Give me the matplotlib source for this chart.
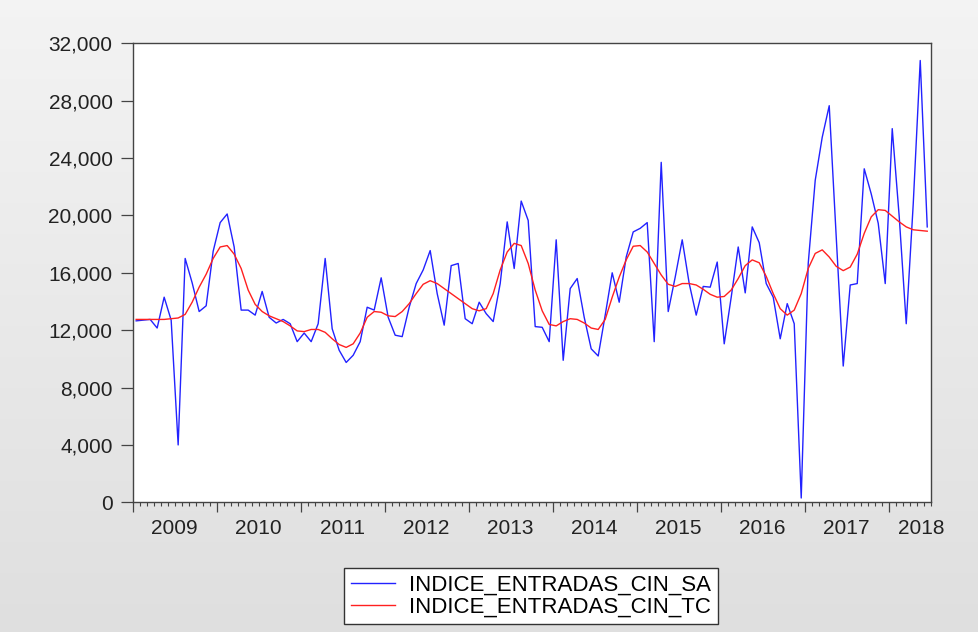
import numpy as np
import matplotlib.pyplot as plt

plt.rcParams['font.family'] = ['Liberation Sans', 'DejaVu Sans']

# Serie mensual 2009M01 - 2018M06
anio_inicio = 2009
etiquetas_anios = ['2009', '2010', '2011', '2012', '2013', '2014', '2015', '2016', '2017', '2018']

indice_sa = [
    12650, 12700, 12750, 12150, 14300, 12700, 4000, 17000, 15300, 13300,
    13700, 17500, 19500, 20100, 17800, 13400, 13400, 13050, 14700, 12900,
    12500, 12750, 12450, 11200, 11800, 11200, 12450, 17000, 12100, 10600,
    9750, 10250, 11200, 13600, 13400, 15650, 12900, 11650, 11550, 13600,
    15250, 16200, 17550, 14550, 12350, 16500, 16650, 12800, 12450, 13950,
    13150, 12600, 15250, 19550, 16300, 21000, 19650, 12250, 12200, 11200,
    18300, 9900, 14900, 15600, 12900, 10700, 10200, 13050, 16000, 13950,
    17100, 18850, 19100, 19500, 11200, 23700, 13300, 15700, 18300, 15250,
    13050, 15050, 15000, 16750, 11050, 14300, 17800, 14600, 19200, 18100,
    15250, 14300, 11400, 13850, 12450, 300, 16650, 22450, 25450, 27650,
    18500, 9500, 15150, 15250, 23250, 21500, 19450, 15250, 26050, 19900,
    12450, 20800, 30800, 19200,
]

indice_tc = [
    12750, 12750, 12750, 12750, 12750, 12800, 12850, 13100, 13950, 15000,
    15900, 17000, 17800, 17900, 17300, 16300, 14800, 13800, 13300, 13000,
    12800, 12600, 12300, 11950, 11900, 12050, 12050, 11850, 11400, 11000,
    10800, 11050, 11800, 12900, 13300, 13250, 13000, 12950, 13300, 13850,
    14550, 15200, 15450, 15250, 14900, 14550, 14200, 13850, 13500, 13350,
    13500, 14550, 16200, 17450, 18050, 17900, 16650, 14800, 13350, 12400,
    12300, 12600, 12800, 12750, 12500, 12150, 12050, 12750, 14300, 15700,
    16900, 17850, 17900, 17450, 16650, 15850, 15200, 15050, 15250, 15250,
    15150, 14850, 14500, 14300, 14350, 14800, 15600, 16500, 16900, 16700,
    15750, 14550, 13500, 13050, 13400, 14550, 16300, 17350, 17600, 17100,
    16450, 16150, 16400, 17300, 18750, 19900, 20400, 20350, 19950, 19550,
    19200, 19000, 18950, 18900,
]

n = len(indice_sa)
# cada observacion en el centro de su mes
meses = np.arange(n) + 0.5

fig = plt.figure(figsize=(9.79, 6.32), dpi=100)

# fondo gris con degradado suave (claro arriba, algo mas oscuro abajo)
fondo = fig.add_axes([0, 0, 1, 1], zorder=-10)
g = np.linspace(0.955, 0.875, 256).reshape(-1, 1, 1)
fondo.imshow(np.repeat(g, 3, axis=2), aspect='auto', extent=[0, 1, 0, 1])
fondo.axis('off')

ax = fig.add_axes([0.1355, 0.2052, 0.8152, 0.7263])
ax.set_facecolor('white')

ax.plot(meses, indice_sa, color='#2222ff', linewidth=1.0, label='INDICE_ENTRADAS_CIN_SA')
ax.plot(meses, indice_tc, color='#ff2020', linewidth=1.0, label='INDICE_ENTRADAS_CIN_TC')

ax.set_xlim(0, n)
ax.set_ylim(0, 32000)
ax.set_yticks(np.arange(0, 32001, 4000))
ax.set_yticklabels(['{:,}'.format(v) for v in range(0, 32001, 4000)])

# ticks: largos en cada año, cortos en cada mes
ax.set_xticks(np.arange(0, n + 1, 12))
ax.set_xticks(np.arange(0, n + 1, 1), minor=True)
ax.set_xticklabels([])
ax.tick_params(axis='x', which='major', direction='out', length=7.5, width=0.9, color='#444444')
ax.tick_params(axis='x', which='minor', direction='out', length=3.2, width=0.8, color='#444444')
ax.tick_params(axis='y', direction='out', length=9, width=0.9, pad=5.5,
               labelsize=15, color='#444444', labelcolor='#222222')

# etiquetas de los años centradas en cada año
pos_etiquetas = [6 + 12 * k for k in range(len(etiquetas_anios) - 1)] + [112.7]
for p, lab in zip(pos_etiquetas, etiquetas_anios):
    ax.text(p, -0.058, lab, transform=ax.get_xaxis_transform(), ha='center', va='center',
            fontsize=15, color='#222222')

for s in ax.spines.values():
    s.set_color('#444444')
    s.set_linewidth(1.0)

leg = fig.legend(loc='center', bbox_to_anchor=(0.5424, 0.057), fontsize=16,
                 frameon=True, fancybox=False, edgecolor='#333333', framealpha=1,
                 handlelength=2.0, handletextpad=0.65, borderpad=0.3,
                 borderaxespad=0, labelspacing=0.05)
leg.get_frame().set_linewidth(1.0)

plt.savefig('out.png', dpi=100)
